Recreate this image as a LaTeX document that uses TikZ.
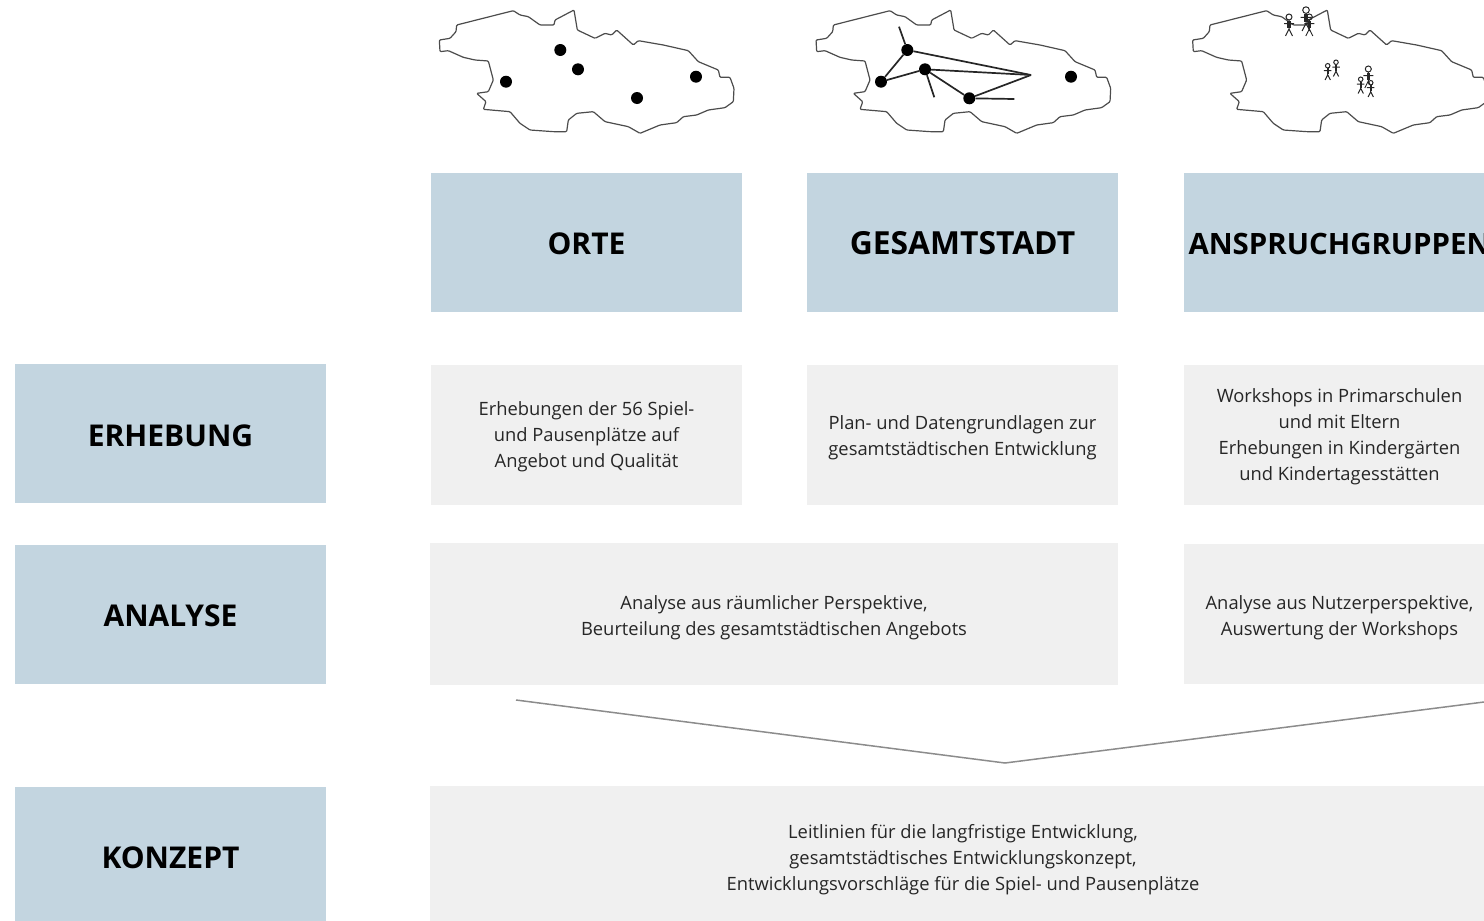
\documentclass[tikz,border=0pt]{standalone}
\usepackage{fontspec}
\setmainfont{Open Sans}
\tikzstyle{headbox}=[fill=headblue,minimum width=311pt,minimum height=139pt,inner sep=0pt,text height=25pt,text depth=0pt,font=\fontsize{30}{34}\selectfont\bfseries]
\tikzstyle{textbox}=[fill=textgrey,inner sep=0pt]
\tikzstyle{boxtext}=[inner sep=0pt,align=center,text=black!85,font=\fontsize{18.35}{26}\selectfont]
\tikzstyle{citydot}=[circle,fill=black,minimum size=12pt,inner sep=0pt]
\tikzstyle{edge} = [draw,line width=1.7pt,black!85,-]
\definecolor{headblue}{HTML}{C3D5E0}
\definecolor{textgrey}{HTML}{F0F0F0}
\definecolor{chevrongrey}{HTML}{8C8C8C}
\tikzset{
  cityplan/.pic={
    \draw[line width=1.2pt,black!70,line join=round,rounded corners=1pt] (80,75) -- (250,32) -- (270,45) -- (295,50) -- (330,75) -- (372,75) -- (375,60) -- (432,30) -- (442,90) -- (495,115) -- (525,100) -- (545,105) -- (560,90) -- (610,135) -- (625,122) -- (700,135) -- (775,152) -- (805,185) -- (865,210) -- (870,232) -- (900,232) -- (912,265) -- (910,305) -- (885,323) -- (835,330) -- (800,345) -- (760,350) -- (740,368) -- (690,375) -- (630,400) -- (595,380) -- (525,365) -- (490,335) -- (440,340) -- (415,360) -- (410,395) -- (370,395) -- (300,390) -- (270,370) -- (240,335) -- (160,328) -- (168,305) -- (140,280) -- (175,275) -- (190,240) -- (175,183) -- (135,180) -- (100,172) -- (55,152) -- (30,155) -- (28,120) -- (60,115) -- (78,95) -- cycle;
  },
  stickman/.pic={
    \draw[line width=1pt,black!85] (0,-9) circle (3) (0,-6) -- (0,3) (-5,-2.5) -- (5,-2.5) (-3.5,10) -- (0,3) -- (3.5,10);
    \fill[black!85] (-1.6,-5.5) rectangle (1.6,2);
  }
}
\begin{document}
\begin{tikzpicture}[x=1pt,y=-1pt]
    \useasboundingbox (0,0) rectangle (1484,921);
    \clip (0,0) rectangle (1484,921);
    % stadtplaene
    \pic[scale=1/3] at (430,0) {cityplan};
    \pic[scale=1/3] at (806.7,0) {cityplan};
    \pic[scale=1/3] at (1183.3,0) {cityplan};
    % orte
    \foreach \pos/\name in {{(560.3,50)/a1}, {(506,81.7)/a2}, {(578,69.3)/a3}, {(637,98)/a4}, {(696,76.7)/a5}}
        \node[citydot] (\name) at \pos {};
    % gesamtstadt
    \foreach \pos/\name in {{(907.3,50)/b1}, {(881,81.7)/b2}, {(925,69.3)/b3}, {(969.3,98.3)/b4}, {(1071,76.7)/b5}}
        \node[citydot] (\name) at \pos {};
    \coordinate (hub) at (1031,75);
    \coordinate (end1) at (899,26.7);
    \coordinate (end3) at (934.3,97.3);
    \coordinate (end4) at (1014.3,99);
    \foreach \source/ \dest in {b1/b2, b2/b3, b3/b4, b1/hub, b3/hub, b4/hub, b1/end1, b3/end3, b4/end4}
        \path[edge] (\source) -- (\dest);
    % anspruchgruppen
    \foreach \pos/\size in {{(1289,26)/1}, {(1306,20)/1.1}, {(1309.3,26)/1}, {(1327.7,72.5)/.75}, {(1336,69)/.75}, {(1368.3,78)/1}, {(1360.7,86)/.75}, {(1370.7,89.5)/.75}}
        \pic[scale=\size] at \pos {stickman};
    % kopfzeile
    \foreach \pos/\name/\label in {{(586.5,242)/orte/ORTE}, {(962.5,242)/gesamtstadt/{\fontsize{31.8}{34}\selectfont GESAMTSTADT}}, {(1339.5,242)/gruppen/{\fontsize{29.4}{34}\selectfont ANSPRUCHGRUPPEN}}, {(170.5,433.5)/erhebung/ERHEBUNG}, {(170.5,614)/analyse/ANALYSE}, {(170.5,856)/konzept/KONZEPT}}
        \node[headbox] (\name) at \pos {\label};
    % felder
    \foreach \pos/\name/\boxw/\boxh in {{(586.5,435)/t1/311/140}, {(962.5,435)/t2/311/140}, {(1339.5,435)/t3/311/140}, {(774,614)/t4/688/142}, {(1339.5,614)/t5/311/140}}
        \node[textbox,minimum width=\boxw pt,minimum height=\boxh pt] (\name) at \pos {};
    \fill[textgrey] (430,786) rectangle (1484,921);
    \coordinate (t6) at (963,857);
    \node[boxtext] (l1) at ([yshift=-1.5pt]t1.center) {Erhebungen der 56 Spiel-\\und Pausenplätze auf\\Angebot und Qualität};
    \node[boxtext] (l2) at ([yshift=-2.5pt]t2.center) {Plan- und Datengrundlagen zur\\gesamtstädtischen Entwicklung};
    \node[boxtext] (l3) at ([yshift=-1.5pt]t3.center) {Workshops in Primarschulen\\und mit Eltern\\Erhebungen in Kindergärten\\und Kindertagesstätten};
    \node[boxtext] (l4) at ([yshift=-3.5pt]t4.center) {Analyse aus räumlicher Perspektive,\\Beurteilung des gesamtstädtischen Angebots};
    \node[boxtext] (l5) at ([yshift=-3.5pt]t5.center) {Analyse aus Nutzerperspektive,\\Auswertung der Workshops};
    \node[boxtext] (l6) at ([yshift=-2.5pt]t6) {Leitlinien für die langfristige Entwicklung,\\gesamtstädtisches Entwicklungskonzept,\\Entwicklungsvorschläge für die Spiel- und Pausenplätze};
    % pfeil
    \coordinate (left) at (516,700);
    \coordinate (tip) at (1005,763);
    \coordinate (right) at (1484,702);
    \draw[chevrongrey,line width=1.5pt] (left) -- (tip) -- (right);
\end{tikzpicture}
\end{document}
